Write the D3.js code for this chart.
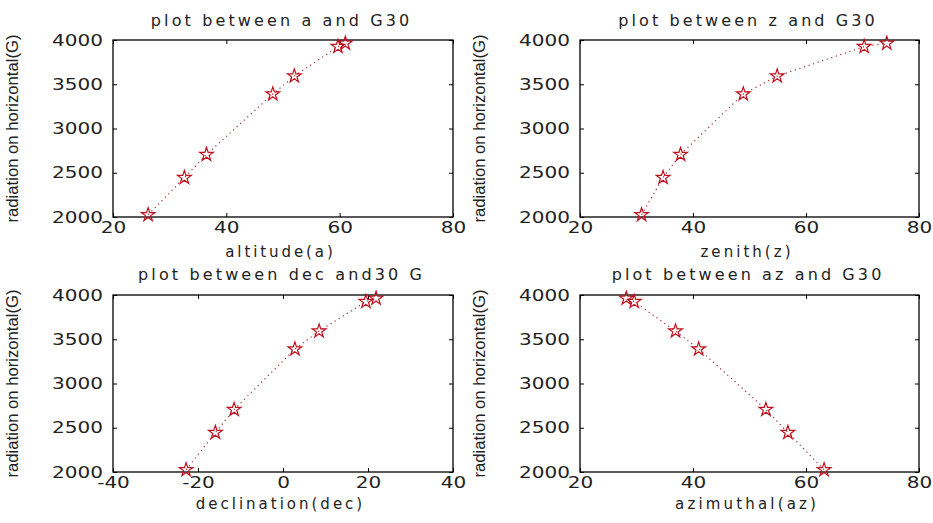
<!DOCTYPE html>
<html><head><meta charset="utf-8">
<script src="https://cdn.jsdelivr.net/npm/d3@7"></script>
<style>body{margin:0;background:#fff}svg{display:block}</style></head>
<body><svg id="c" width="933" height="523"></svg>
<script>
// ---- data ----
const G30 = [2025, 2445, 2706, 3389, 3592, 3925, 3962];
const altitude = [26.2, 32.6, 36.5, 48.2, 52.0, 59.7, 61.0];
const zenith = [30.9, 34.7, 37.8, 48.9, 54.9, 70.3, 74.3];
const declination = [-22.8, -15.9, -11.5, 2.8, 8.5, 19.5, 21.9];
const azimuthal = [63.2, 56.8, 52.9, 41.0, 36.9, 29.6, 28.2];
const titles = ["plot between a and G30", "plot between z and G30", "plot between dec and30 G", "plot between az and G30"];
const xLabels = ["altitude(a)", "zenith(z)", "declination(dec)", "azimuthal(az)"];
const yLabel = "radiation on horizontal(G)";
const xDomains = [[20, 80], [20, 80], [-40, 40], [20, 80]];
const xTicks = [[20, 40, 60, 80], [20, 40, 60, 80], [-40, -20, 0, 20, 40], [20, 40, 60, 80]];
const yTicks = [2000, 2500, 3000, 3500, 4000];
const xSeries = [altitude, zenith, declination, azimuthal];

// ---- layout ----
const boxes = [
  {l: 113, r: 453, t: 40, b: 217, ty: 21, xly: 252},
  {l: 580, r: 919, t: 40, b: 217, ty: 21, xly: 252},
  {l: 113, r: 453, t: 295, b: 472, ty: 275, xly: 504},
  {l: 580, r: 919, t: 295, b: 472, ty: 275, xly: 504}
];
const svg = d3.select("#c");
svg.append("rect").attr("width", 933).attr("height", 523).attr("fill", "#fff");
const RED = "#c0101e";
const wide = "'DejaVu Sans', Verdana, sans-serif";
const narrow = "'Liberation Sans', Arial, sans-serif";
const fmt = d => String(d);

function spread(sel, f, mode) {
  sel.each(function () {
    const w = this.getComputedTextLength();
    d3.select(this).attr("textLength", w * f).attr("lengthAdjust", mode || "spacing");
  });
}

boxes.forEach((bx, i) => {
  const x = d3.scaleLinear().domain(xDomains[i]).range([bx.l, bx.r]);
  const y = d3.scaleLinear().domain([2000, 4000]).range([bx.b, bx.t]);
  const g = svg.append("g");

  // axes with inward ticks
  const ax = g.append("g").attr("transform", `translate(0,${bx.b})`)
    .call(d3.axisBottom(x).tickValues(xTicks[i]).tickSize(-4).tickPadding(6).tickFormat(fmt));
  const ay = g.append("g").attr("transform", `translate(${bx.l},0)`)
    .call(d3.axisLeft(y).tickValues(yTicks).tickSize(-4).tickPadding(10).tickFormat(fmt));
  const at = g.append("g").attr("transform", `translate(0,${bx.t})`)
    .call(d3.axisTop(x).tickValues(xTicks[i]).tickSize(-4).tickFormat(""));
  const ar = g.append("g").attr("transform", `translate(${bx.r},0)`)
    .call(d3.axisRight(y).tickValues(yTicks).tickSize(-4).tickFormat(""));
  [ax, ay, at, ar].forEach(a => {
    a.select(".domain").remove();
    a.selectAll("line").attr("stroke", "#000").attr("stroke-width", 1);
  });
  ax.selectAll("text").attr("font-family", wide).attr("font-size", 16).attr("fill", "#222").attr("dy", "0.6em");
  ay.selectAll("text").attr("font-family", wide).attr("font-size", 16).attr("fill", "#222");
  spread(ax.selectAll("text"), 1.25, "spacingAndGlyphs");
  spread(ay.selectAll("text"), 1.25, "spacingAndGlyphs");

  g.append("rect").attr("x", bx.l).attr("y", bx.t).attr("width", bx.r - bx.l).attr("height", bx.b - bx.t)
    .attr("fill", "none").attr("stroke", "#000").attr("stroke-width", 1.3);

  // data
  const pts = xSeries[i].map((v, k) => [v, G30[k]]);
  g.append("path").datum(pts)
    .attr("d", d3.line().x(d => x(d[0])).y(d => y(d[1])))
    .attr("fill", "none").attr("stroke", "#9a3030").attr("stroke-width", 1.2)
    .attr("stroke-dasharray", "1.2,3.6");
  g.selectAll(".star").data(pts).join("path")
    .attr("transform", d => `translate(${x(d[0])},${y(d[1])})`)
    .attr("d", d3.symbol(d3.symbolStar, 58))
    .attr("fill", "none").attr("stroke", RED).attr("stroke-width", 1.2);

  // titles and labels
  const t = g.append("text").attr("x", (bx.l + bx.r) / 2 - 3).attr("y", bx.ty)
    .attr("text-anchor", "middle").attr("dominant-baseline", "middle")
    .attr("font-family", wide).attr("font-size", 16).attr("fill", "#222")
    .text(titles[i]);
  spread(t, 1.34);
  const xl = g.append("text").attr("x", (bx.l + bx.r) / 2 - 4).attr("y", bx.xly)
    .attr("text-anchor", "middle").attr("dominant-baseline", "middle")
    .attr("font-family", wide).attr("font-size", 15).attr("fill", "#222")
    .text(xLabels[i]);
  spread(xl, 1.37);
  g.append("text")
    .attr("transform", `translate(${bx.l - 99},${(bx.t + bx.b) / 2}) rotate(-90)`)
    .attr("text-anchor", "middle").attr("dominant-baseline", "middle")
    .attr("font-family", narrow).attr("font-size", 16).attr("fill", "#222")
    .text(yLabel)
    .attr("textLength", 188).attr("lengthAdjust", "spacingAndGlyphs");
});
</script></body></html>
